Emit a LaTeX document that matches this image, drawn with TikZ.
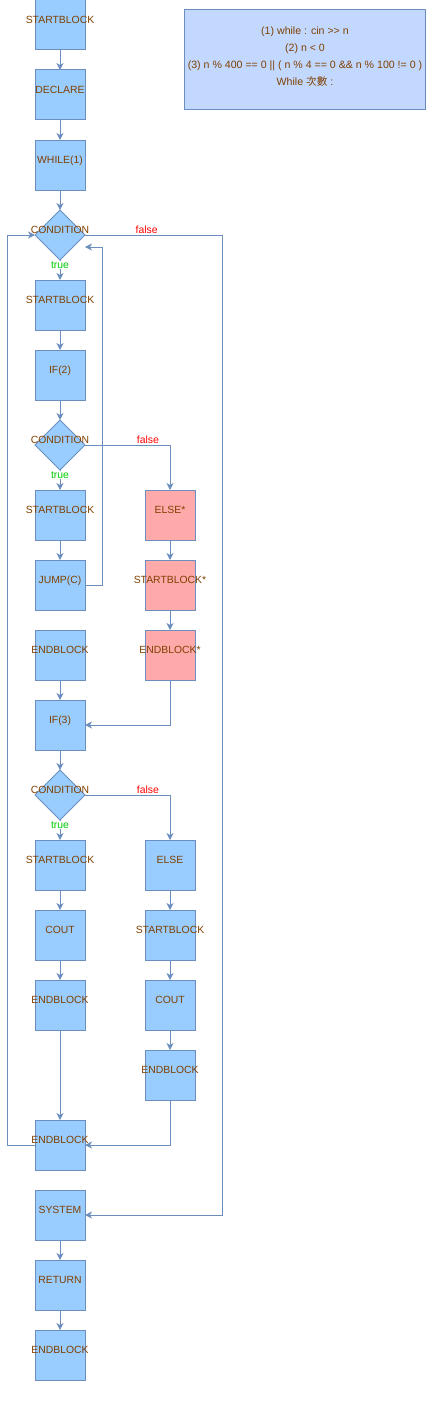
\documentclass[tikz,border=0pt]{standalone}
\usepackage{fontspec}
\setmainfont{Liberation Sans}
\newfontfamily\cjk{Noto Sans CJK TC}
\usepackage{tikz}
\usetikzlibrary{shapes.geometric,arrows.meta,positioning,calc}

\definecolor{boxblue}{HTML}{99CCFF}
\definecolor{boxred}{HTML}{FFAAAA}
\definecolor{noteblue}{HTML}{C3D8FF}
\definecolor{edgeblue}{HTML}{6C8EBF}
\definecolor{textbrown}{HTML}{7F4000}
\definecolor{falsered}{HTML}{FF0000}
\definecolor{truegreen}{HTML}{00CC00}

\begin{document}
\begin{tikzpicture}[line width=1pt,
    block/.style={rectangle, draw=edgeblue, fill=boxblue, minimum width=50pt, minimum height=50pt, inner sep=0pt, outer sep=0pt,
        text=textbrown, font=\fontsize{10.4pt}{12pt}\selectfont, text height=2pt, text depth=5pt,
        execute at begin node={\hbox to 0pt\bgroup\hss}, execute at end node={\hss\egroup}},
    redblock/.style={block, fill=boxred},
    cond/.style={block, diamond, aspect=1},
    note/.style={rectangle, draw=edgeblue, fill=noteblue, minimum width=240pt, minimum height=100pt, align=center,
        text=textbrown, font=\fontsize{10.6pt}{17pt}\selectfont},
    arrow/.style={draw=edgeblue, -{Stealth[length=7pt, width=7pt, inset=2pt]}},
    flabel/.style={text=falsered, font=\fontsize{10.4pt}{12pt}\selectfont, above, inner sep=0.5pt},
    tlabel/.style={text=truegreen, font=\fontsize{10.4pt}{12pt}\selectfont, fill=white, inner sep=0.5pt}]

    \useasboundingbox (0,0) rectangle (428pt,-1402pt);

    % main column
    \node[block] (start) at (60pt,-25pt) {STARTBLOCK};
    \node[block, below=20pt of start] (declare) {DECLARE};
    \node[block, below=20pt of declare] (while) {WHILE(1)};
    \node[cond, below=20pt of while] (cond1) {CONDITION};
    \node[block, below=20pt of cond1] (sb1) {STARTBLOCK};
    \node[block, below=20pt of sb1] (if2) {IF(2)};
    \node[cond, below=20pt of if2] (cond2) {CONDITION};
    \node[block, below=20pt of cond2] (sb2) {STARTBLOCK};
    \node[block, below=20pt of sb2] (jump) {JUMP(C)};
    \node[block, below=20pt of jump] (eb1) {ENDBLOCK};
    \node[block, below=20pt of eb1] (if3) {IF(3)};
    \node[cond, below=20pt of if3] (cond3) {CONDITION};
    \node[block, below=20pt of cond3] (sb3) {STARTBLOCK};
    \node[block, below=20pt of sb3] (cout1) {COUT};
    \node[block, below=20pt of cout1] (eb2) {ENDBLOCK};
    \node[block, below=90pt of eb2] (eb3) {ENDBLOCK};
    \node[block, below=20pt of eb3] (system) {SYSTEM};
    \node[block, below=20pt of system] (ret) {RETURN};
    \node[block, below=20pt of ret] (eb4) {ENDBLOCK};

    % else branches
    \node[redblock, right=60pt of sb2] (elseA) {ELSE*};
    \node[redblock, below=20pt of elseA] (sbA) {STARTBLOCK*};
    \node[redblock, below=20pt of sbA] (ebA) {ENDBLOCK*};
    \node[block, right=60pt of sb3] (elseB) {ELSE};
    \node[block, below=20pt of elseB] (sbB) {STARTBLOCK};
    \node[block, below=20pt of sbB] (coutB) {COUT};
    \node[block, below=20pt of coutB] (ebB) {ENDBLOCK};

    \node[note] (legend) at (305pt,-60pt) {(1) while : cin {>}{>} n\\(2) n < 0\\(3) n \% 400 == 0 || ( n \% 4 == 0 \&\& n \% 100 != 0 )\\While {\cjk 次數} :\\[-10pt]\mbox{}};

    \draw[arrow] (start) -- (declare);
    \draw[arrow] (declare) -- (while);
    \draw[arrow] (while) -- (cond1);
    \draw[arrow] (cond1) -- node[tlabel, pos=0.25] {true} (sb1);
    \draw[arrow] (cond1.east) -- node[flabel, pos=0.45] {false} ++(137pt,0) |- (system.east);
    \draw[arrow] (sb1) -- (if2);
    \draw[arrow] (if2) -- (cond2);
    \draw[arrow] (cond2) -- node[tlabel, pos=0.25] {true} (sb2);
    \draw[arrow] (cond2.east) -| node[flabel, pos=0.37] {false} (elseA.north);
    \draw[arrow] (sb2) -- (jump);
    \draw[arrow] (jump.east) -- ++(17pt,0) |- ([yshift=-12pt]cond1.east);
    \draw[arrow] (elseA) -- (sbA);
    \draw[arrow] (sbA) -- (ebA);
    \draw[arrow] (ebA.south) |- (if3.east);
    \draw[arrow] (eb1) -- (if3);
    \draw[arrow] (if3) -- (cond3);
    \draw[arrow] (cond3) -- node[tlabel, pos=0.25] {true} (sb3);
    \draw[arrow] (cond3.east) -| node[flabel, pos=0.37] {false} (elseB.north);
    \draw[arrow] (sb3) -- (cout1);
    \draw[arrow] (cout1) -- (eb2);
    \draw[arrow] (eb2) -- (eb3);
    \draw[arrow] (elseB) -- (sbB);
    \draw[arrow] (sbB) -- (coutB);
    \draw[arrow] (coutB) -- (ebB);
    \draw[arrow] (ebB.south) |- (eb3.east);
    \draw[arrow] (eb3.west) -- ++(-28pt,0) |- (cond1.west);
    \draw[arrow] (system) -- (ret);
    \draw[arrow] (ret) -- (eb4);
\end{tikzpicture}
\end{document}
